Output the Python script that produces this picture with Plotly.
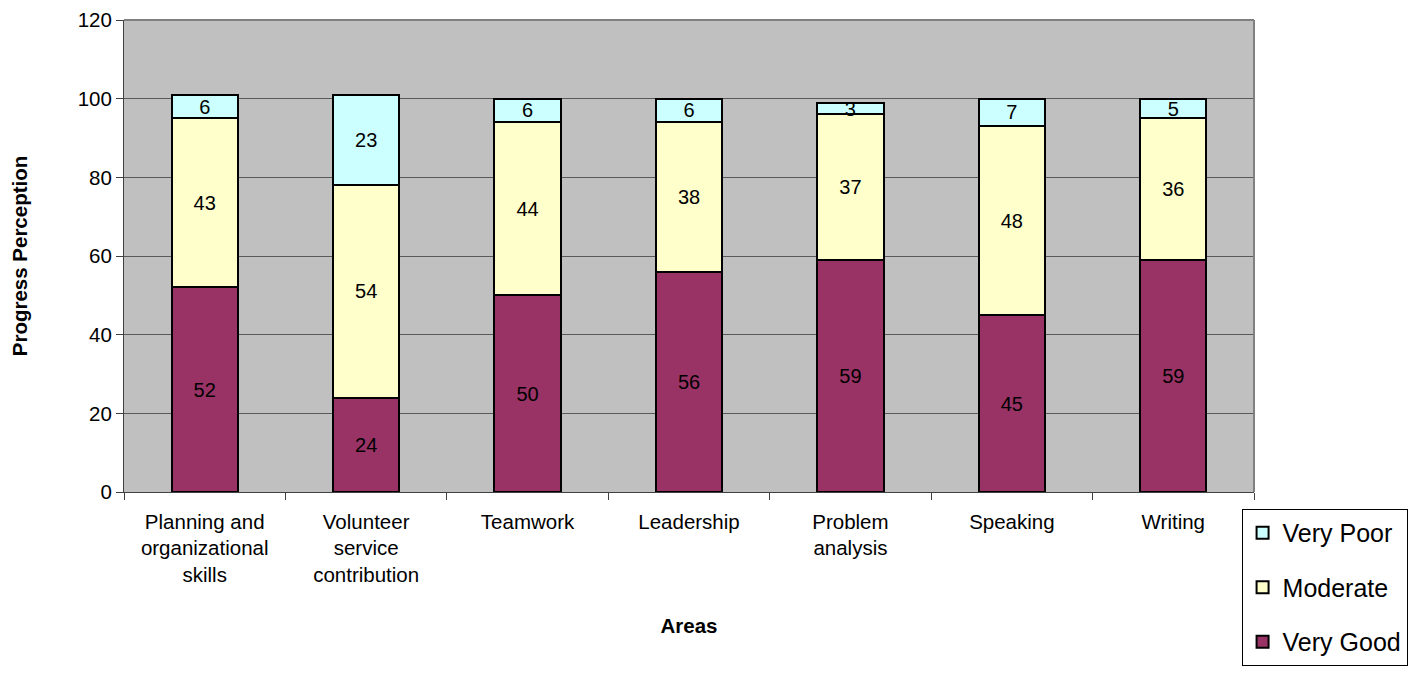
import plotly.graph_objects as go

areas = [
    "Planning and<br>organizational<br>skills",
    "Volunteer<br>service<br>contribution",
    "Teamwork",
    "Leadership",
    "Problem<br>analysis",
    "Speaking",
    "Writing",
]
very_good = [52, 24, 50, 56, 59, 45, 59]
moderate = [43, 54, 44, 38, 37, 48, 36]
very_poor = [6, 23, 6, 6, 3, 7, 5]

FONT = "Liberation Sans, Arial, sans-serif"

fig = go.Figure()

series = [
    ("Very Good", very_good, "#993366", 3),
    ("Moderate", moderate, "#FFFFCC", 2),
    ("Very Poor", very_poor, "#CCFFFF", 1),
]
for name, vals, color, rank in series:
    fig.add_trace(go.Bar(
        x=areas,
        y=vals,
        name=name,
        legendgroup=name,
        legendrank=rank,
        marker=dict(color=color, line=dict(color="black", width=2)),
        text=vals,
        textposition="inside",
        insidetextanchor="middle",
        textangle=0,
        constraintext="none",
        textfont=dict(family=FONT, size=20, color="black"),
        width=0.41,
    ))

# the page body adds an 8px offset, margins are set to compensate
fig.update_layout(
    barmode="stack",
    width=1416,
    height=675,
    paper_bgcolor="white",
    plot_bgcolor="#C0C0C0",
    margin=dict(l=116, r=170, t=12, b=191, autoexpand=False),
    font=dict(family=FONT, size=20, color="black"),
    showlegend=True,
    legend=dict(
        x=0.989, xanchor="left", xref="paper",
        y=-0.036, yanchor="top", yref="paper",
        traceorder="grouped",
        tracegroupgap=19,
        bordercolor="black",
        borderwidth=1,
        bgcolor="white",
        font=dict(family=FONT, size=25, color="black"),
        itemwidth=30,
    ),
    xaxis=dict(
        type="category",
        tickson="boundaries",
        ticks="outside",
        ticklen=7,
        tickcolor="#404040",
        showline=True,
        linecolor="#404040",
        linewidth=1,
        ticklabelstandoff=11,
        tickfont=dict(family=FONT, size=20.5),
        title=dict(text="<b>Areas</b>", font=dict(family=FONT, size=20.5), standoff=33),
    ),
    yaxis=dict(
        range=[0, 120],
        dtick=20,
        ticks="outside",
        ticklen=7,
        tickcolor="#404040",
        showline=True,
        linecolor="#404040",
        linewidth=1,
        showgrid=True,
        gridcolor="#5a5a5a",
        gridwidth=1,
        zeroline=False,
        tickfont=dict(family=FONT, size=20.5),
        title=dict(text="<b>Progress Perception</b>", font=dict(family=FONT, size=20.5), standoff=47),
    ),
)

# right and top border of the plot area
fig.add_shape(type="line", xref="paper", yref="paper", x0=1, x1=1, y0=0, y1=1,
              line=dict(color="#808080", width=2))
fig.add_shape(type="line", xref="paper", yref="paper", x0=0, x1=1, y0=1, y1=1,
              line=dict(color="#808080", width=2))

fig.write_html("out.html")
